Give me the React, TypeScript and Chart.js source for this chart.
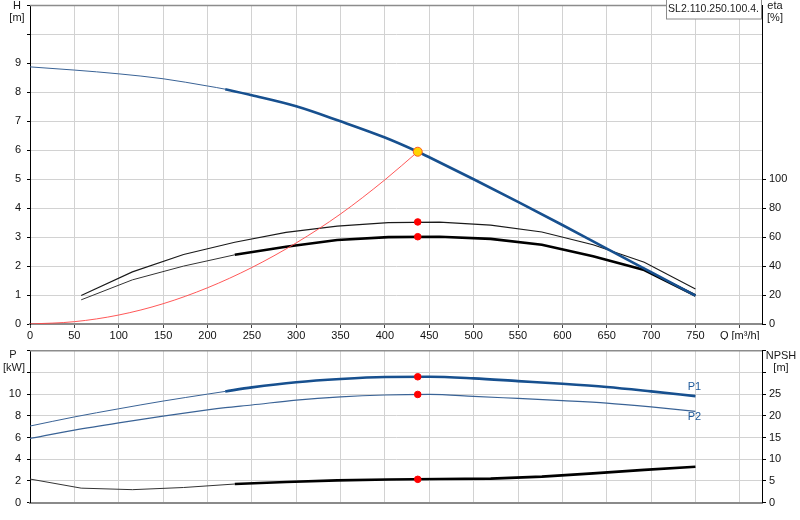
import { useEffect, useRef } from 'react';
import { Chart, registerables } from 'chart.js';

Chart.register(...registerables);

const FONT = "'Liberation Sans', Arial, sans-serif";
Chart.defaults.font.family = FONT;
Chart.defaults.font.size = 11;
Chart.defaults.color = '#111';

// ---------- data ----------
const qTicks = [0, 50, 100, 150, 200, 250, 300, 350, 400, 450, 500, 550, 600, 650, 700, 750, 800];
const qAxisName = 'Q [m³/h]';
const modelName = 'SL2.110.250.100.4.';

// head curve H [m]
const qHead = [0, 50, 100, 150, 200, 220, 250, 300, 350, 400, 437, 450, 500, 550, 600, 650, 700, 750];
const head = [8.88, 8.77, 8.64, 8.47, 8.22, 8.11, 7.9, 7.52, 7.0, 6.44, 5.95, 5.76, 5.0, 4.22, 3.42, 2.6, 1.79, 0.98];

// system curve H [m]
const qSystem = [0, 50, 100, 150, 200, 250, 300, 350, 400, 437];
const systemHead = [0, 0.08, 0.31, 0.7, 1.25, 1.95, 2.8, 3.8, 4.98, 5.95];

// efficiency curves eta [%]
const qEta = [57.7, 115.4, 173.1, 230.8, 288.5, 346.2, 403.8, 461.5, 519.2, 576.9, 634.6, 692.3, 750];
const etaUpper = [19.7, 36, 48, 56.5, 63.3, 67.6, 70, 70.4, 68.3, 63.6, 54.7, 42.6, 24.2];
const etaLower = [16.7, 30.5, 40, 47.8, 53.4, 58, 60, 60.3, 58.8, 54.7, 46.8, 37.3, 19.7];

// power curves P [kW]
const qPower = [0, 50, 100, 150, 200, 220, 250, 300, 350, 400, 450, 500, 550, 600, 650, 700, 750];
const p1 = [7.06, 7.9, 8.65, 9.36, 10.0, 10.25, 10.62, 11.1, 11.4, 11.58, 11.6, 11.45, 11.2, 10.95, 10.65, 10.25, 9.82];
const p2 = [5.92, 6.69, 7.36, 7.98, 8.55, 8.75, 9.0, 9.45, 9.75, 9.92, 9.97, 9.8, 9.6, 9.4, 9.17, 8.82, 8.41];

// NPSH [m]
const qNpsh = [0, 57.7, 115.4, 173.1, 230.8, 288.5, 346.2, 403.8, 461.5, 519.2, 576.9, 634.6, 692.3, 750];
const npsh = [5.45, 3.35, 3.0, 3.5, 4.3, 4.75, 5.15, 5.35, 5.45, 5.55, 6.0, 6.75, 7.55, 8.28];

// duty point
const dutyQ = 437;
const dutyHead = 5.95;
const dutyEtaUpper = 70.5;
const dutyEtaLower = 60.3;
const dutyP1 = 11.6;
const dutyP2 = 9.97;
const dutyNpsh = 5.38;

// ---------- styles ----------
const BLUE = '#17508f';
const BLUE_THIN = '#3a6396';
const GRID = '#d2d2d2';
const THICK_FROM = 215;

const xy = (xs: number[], ys: number[]) => xs.map((x, i) => ({ x, y: ys[i] }));

const thickSeg = (color: string, thin: string) => ({
  borderWidth: (c: any) => (c.p0.parsed.x >= THICK_FROM ? 2.6 : 1),
  borderColor: (c: any) => (c.p0.parsed.x >= THICK_FROM ? color : thin),
});

const dot = (x: number, y: number, axis: string, fill: string, border: string, r: number) => ({
  type: 'line' as const,
  data: [{ x, y }],
  yAxisID: axis,
  showLine: false,
  pointRadius: r,
  pointBackgroundColor: fill,
  pointBorderColor: border,
  pointBorderWidth: 1,
  order: 0,
});

const zeroPad = (s: any) => {
  s.paddingTop = 0;
  s.paddingBottom = 0;
  s.paddingLeft = 0;
  s.paddingRight = 0;
};

const topPlugin = {
  id: 'topDecor',
  afterDraw(chart: any) {
    const { ctx, chartArea: a } = chart;
    ctx.save();
    ctx.strokeStyle = '#8c8c8c';
    ctx.lineWidth = 1.5;
    ctx.beginPath();
    ctx.moveTo(a.left, a.top);
    ctx.lineTo(a.right, a.top);
    ctx.stroke();

    ctx.fillStyle = '#1a1a1a';
    ctx.font = `11px ${FONT}`;
    ctx.textAlign = 'center';
    ctx.textBaseline = 'middle';
    ctx.fillText('H', 17, 6);
    ctx.fillText('[m]', 17, 18);
    ctx.fillText('eta', 775, 6);
    ctx.fillText('[%]', 775, 18);

    // model box
    ctx.fillStyle = '#fff';
    ctx.fillRect(666, 0, 95, 19);
    ctx.strokeStyle = '#8c8c8c';
    ctx.lineWidth = 1;
    ctx.strokeRect(666.5, -0.5, 95, 19.5);
    ctx.fillStyle = '#1a1a1a';
    ctx.font = `10.5px ${FONT}`;
    ctx.fillText(modelName, 713.5, 9.5);
    ctx.restore();
  },
};

const bottomPlugin = {
  id: 'bottomDecor',
  afterDraw(chart: any) {
    const { ctx, chartArea: a } = chart;
    ctx.save();
    ctx.strokeStyle = '#8c8c8c';
    ctx.lineWidth = 1.5;
    ctx.beginPath();
    ctx.moveTo(a.left, a.top);
    ctx.lineTo(a.right, a.top);
    ctx.stroke();

    ctx.fillStyle = '#1a1a1a';
    ctx.font = `11px ${FONT}`;
    ctx.textAlign = 'center';
    ctx.textBaseline = 'middle';
    ctx.fillText('P', 13, 15);
    ctx.fillText('[kW]', 14, 27.5);
    ctx.fillText('NPSH', 781, 16);
    ctx.fillText('[m]', 781, 27.5);

    // P1 / P2 labels at curve ends
    ctx.fillStyle = '#1f5a9a';
    const m1 = chart.getDatasetMeta(4);
    const m2 = chart.getDatasetMeta(5);
    const e1 = m1.data[m1.data.length - 1];
    const e2 = m2.data[m2.data.length - 1];
    ctx.fillText('P1', e1.x - 1, e1.y - 9);
    ctx.fillText('P2', e2.x - 1, e2.y + 6);
    ctx.restore();
  },
};

const xScale = (showLabels: boolean, height: number) => ({
  type: 'linear' as const,
  min: 0,
  max: 825,
  afterBuildTicks: (s: any) => {
    s.ticks = qTicks.map((v) => ({ value: v }));
  },
  afterFit: (s: any) => {
    s.height = height;
    zeroPad(s);
  },
  ticks: {
    display: showLabels,
    autoSkip: false,
    maxRotation: 0,
    padding: 1,
    color: '#111',
    callback: (v: any) => (v === 800 ? qAxisName : String(v)),
  },
  grid: { color: GRID, drawTicks: showLabels, tickLength: 4, tickColor: '#444' },
  border: { color: '#8a8a8a', width: 2 },
});

const yScale = (pos: 'left' | 'right', max: number, step: number, labelMax: number, width: number, filter: boolean) => ({
  type: 'linear' as const,
  position: pos,
  min: 0,
  max,
  afterBuildTicks: (s: any) => {
    const t: any[] = [];
    for (let v = 0; v <= max + 1e-9; v += step) {
      if (!filter || v <= labelMax + 1e-9) t.push({ value: v });
    }
    s.ticks = t;
  },
  afterFit: (s: any) => {
    s.width = width;
    zeroPad(s);
  },
  ticks: {
    autoSkip: false,
    padding: pos === 'left' ? 6 : 3,
    color: '#111',
    callback: (v: any) => (v <= labelMax + 1e-9 ? String(v) : ''),
  },
  grid: {
    color: GRID,
    drawOnChartArea: pos === 'left',
    tickLength: pos === 'left' ? 3 : 4,
    tickColor: '#000',
  },
  border: { color: '#000', width: 1 },
});

export default function App() {
  const topRef = useRef<HTMLCanvasElement | null>(null);
  const botRef = useRef<HTMLCanvasElement | null>(null);

  useEffect(() => {
    const top = new Chart(topRef.current!, {
      type: 'line',
      data: {
        datasets: [
          dot(dutyQ, dutyHead, 'y', '#ffd400', '#ff5a1f', 4.5),
          dot(dutyQ, dutyEtaUpper, 'y2', '#ff0000', '#ff0000', 3.3),
          dot(dutyQ, dutyEtaLower, 'y2', '#ff0000', '#ff0000', 3.3),
          {
            data: xy(qSystem, systemHead),
            yAxisID: 'y',
            borderColor: 'rgba(255,70,70,0.9)',
            borderWidth: 1,
            pointRadius: 0,
            cubicInterpolationMode: 'monotone',
            order: 1,
          },
          {
            data: xy(qHead, head),
            yAxisID: 'y',
            borderColor: BLUE,
            borderWidth: 2.6,
            segment: thickSeg(BLUE, BLUE_THIN),
            pointRadius: 0,
            cubicInterpolationMode: 'monotone',
            order: 2,
          },
          {
            data: xy(qEta, etaUpper),
            yAxisID: 'y2',
            borderColor: '#1a1a1a',
            borderWidth: 1.1,
            pointRadius: 0,
            tension: 0,
            order: 3,
          },
          {
            data: xy(qEta, etaLower),
            yAxisID: 'y2',
            borderColor: '#000',
            borderWidth: 2.6,
            segment: thickSeg('#000', '#333'),
            pointRadius: 0,
            tension: 0,
            order: 4,
          },
        ] as any,
      },
      options: {
        animation: false,
        responsive: false,
        layout: { padding: { top: 1, left: 0, right: 0, bottom: 0 } },
        plugins: { legend: { display: false }, tooltip: { enabled: false } },
        scales: {
          x: xScale(true, 16),
          y: yScale('left', 11, 1, 9, 30, false),
          y2: yScale('right', 220, 20, 100, 38, true),
        } as any,
      },
      plugins: [topPlugin],
    });

    const bottom = new Chart(botRef.current!, {
      type: 'line',
      data: {
        datasets: [
          dot(dutyQ, dutyP1, 'y', '#ff0000', '#ff0000', 3.3),
          dot(dutyQ, dutyP2, 'y', '#ff0000', '#ff0000', 3.3),
          dot(dutyQ, dutyNpsh, 'y2', '#ff0000', '#ff0000', 3.3),
          {
            data: xy(qNpsh, npsh),
            yAxisID: 'y2',
            borderColor: '#000',
            borderWidth: 2.6,
            segment: thickSeg('#000', '#333'),
            pointRadius: 0,
            tension: 0,
            order: 3,
          },
          {
            data: xy(qPower, p1),
            yAxisID: 'y',
            borderColor: BLUE,
            borderWidth: 2.6,
            segment: thickSeg(BLUE, BLUE_THIN),
            pointRadius: 0,
            cubicInterpolationMode: 'monotone',
            order: 1,
          },
          {
            data: xy(qPower, p2),
            yAxisID: 'y',
            borderColor: BLUE_THIN,
            borderWidth: 1.2,
            pointRadius: 0,
            cubicInterpolationMode: 'monotone',
            order: 2,
          },
        ] as any,
      },
      options: {
        animation: false,
        responsive: false,
        layout: { padding: { top: 10.7, left: 0, right: 0, bottom: 0 } },
        plugins: { legend: { display: false }, tooltip: { enabled: false } },
        scales: {
          x: xScale(false, 17.3),
          y: yScale('left', 14, 2, 10, 30, false),
          y2: yScale('right', 35, 5, 25, 38, false),
        } as any,
      },
      plugins: [bottomPlugin],
    });

    return () => {
      top.destroy();
      bottom.destroy();
    };
  }, []);

  return (
    <div style={{ position: 'fixed', left: 0, top: 0, width: 800, height: 520, background: '#fff' }}>
      <canvas ref={topRef} width={800} height={340} style={{ position: 'absolute', left: 0, top: 0, width: 800, height: 340 }} />
      <canvas ref={botRef} width={800} height={180} style={{ position: 'absolute', left: 0, top: 340, width: 800, height: 180 }} />
    </div>
  );
}
